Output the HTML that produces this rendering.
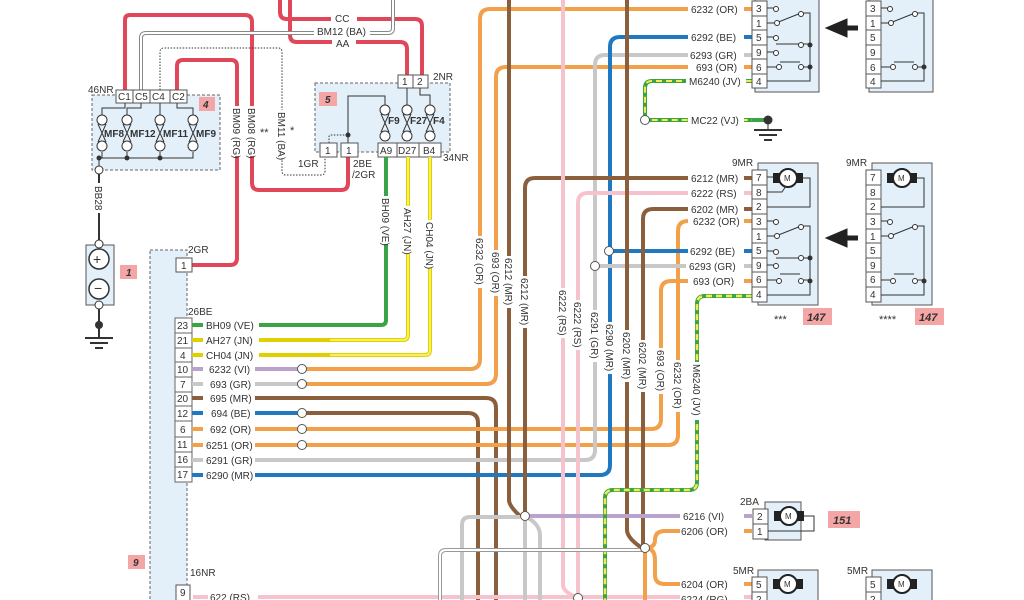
<!DOCTYPE html>
<html><head><meta charset="utf-8"><style>
html,body{margin:0;padding:0;background:#fff;}
svg{display:block;font-family:"Liberation Sans",sans-serif;}
text{font-size:10px;fill:#333;}
</style></head><body>
<svg width="1024" height="600" viewBox="0 0 1024 600" xmlns="http://www.w3.org/2000/svg">
<defs>
<g id="fuse"><circle cx="0" cy="0" r="5" fill="#fff" stroke="#333"/><circle cx="0" cy="26" r="5" fill="#fff" stroke="#333"/><path d="M-4 4 L4 22 M4 4 L-4 22" stroke="#333" fill="none"/></g>
<g id="gnd"><line x1="-14" y1="0" x2="14" y2="0" stroke="#333" stroke-width="2"/><line x1="-9" y1="5" x2="9" y2="5" stroke="#333" stroke-width="2"/><line x1="-4" y1="10" x2="4" y2="10" stroke="#333" stroke-width="2"/></g>
<g id="motor"><rect x="-15" y="-5" width="30" height="10" fill="#222"/><circle cx="0" cy="0" r="9" fill="#fff" stroke="#222" stroke-width="2"/><text x="-4" y="3" style="font-size:8px">M</text></g>
</defs>

<rect x="92" y="95" width="128" height="75" fill="#e3f0fa" stroke="#666" stroke-dasharray="3,2"/>
<rect x="315" y="83" width="135" height="69" fill="#e3f0fa" stroke="#666" stroke-dasharray="3,2"/>
<rect x="150" y="250" width="37" height="360" fill="#e3f0fa" stroke="#666" stroke-dasharray="3,2"/>

<g fill="none" stroke="#e0485a" stroke-width="4" stroke-linejoin="round">
<path d="M125 90 V20 Q125 15 130 15 H245 Q252 15 252 22 V183 Q252 190 259 190 H341 Q348 190 348 183 V157"/>
<path d="M177 90 V66 Q177 60 183 60 H231 Q237 60 237 66 V258 Q237 265 230 265 H192"/>
<path d="M280 0 V12 Q280 19 287 19 H415 Q422 19 422 26 V76"/>
<path d="M290 0 V35 Q290 42 297 42 H400 Q407 42 407 49 V76"/>
</g>
<path d="M141 90 V38 Q141 33 146 33 H388 Q393 33 393 28 V0" fill="none" stroke="#888" stroke-width="4"/>
<path d="M141 90 V38 Q141 33 146 33 H388 Q393 33 393 28 V0" fill="none" stroke="#fff" stroke-width="2"/>
<path d="M160 90 V52 Q160 48 164 48 H278 Q282 48 282 52 V171 Q282 175 286 175 H321 Q325 175 325 171 V157" fill="none" stroke="#333" stroke-dasharray="1.5,1.5"/>
<path d="M329 143 V137 Q329 135 331 135 H349" fill="none" stroke="#333" stroke-dasharray="1.5,1.5"/>
<rect x="331" y="13" width="26" height="11" fill="#fff"/><text x="335" y="22">CC</text>
<rect x="314" y="26" width="56" height="11" fill="#fff"/><text x="317" y="35">BM12 (BA)</text>
<rect x="332" y="37" width="24" height="11" fill="#fff"/><text x="336" y="47">AA</text>

<rect x="232" y="106" width="10" height="50" fill="#fff"/><text transform="translate(233,108) rotate(90)">BM09 (RG)</text>
<rect x="247" y="106" width="10" height="50" fill="#fff"/><text transform="translate(248,108) rotate(90)">BM08 (RG)</text>
<rect x="277" y="110" width="10" height="48" fill="#fff"/><text transform="translate(278,112) rotate(90)">BM11 (BA)</text>
<text x="260" y="136" style="font-size:11px">**</text><text x="290" y="134" style="font-size:11px">*</text>

<text x="88" y="93">46NR</text>
<g fill="#fff" stroke="#555"><rect x="116" y="90" width="17" height="13"/><rect x="133" y="90" width="17" height="13"/><rect x="150" y="90" width="20" height="13"/><rect x="170" y="90" width="17" height="13"/></g>
<text x="118" y="100">C1</text><text x="135" y="100">C5</text><text x="152" y="100">C4</text><text x="172" y="100">C2</text>
<rect x="199" y="97" width="16" height="14" fill="#f4a5a5"/><text x="203" y="108" style="font-weight:bold;font-style:italic">4</text>
<g fill="none" stroke="#333"><path d="M125 103 V108 H102 V115"/><path d="M141 103 V108 H127 V115"/><path d="M160 103 V115"/><path d="M177 103 V108 H193 V115"/><path d="M102 152 V158 H193 V152 M127 152 V158 M160 152 V158 M99 158 V170"/></g>
<use href="#fuse" x="102" y="120"/><use href="#fuse" x="127" y="120"/><use href="#fuse" x="160" y="120"/><use href="#fuse" x="193" y="120"/>
<text x="104" y="137" style="font-weight:bold">MF8</text><text x="130" y="137" style="font-weight:bold">MF12</text><text x="163" y="137" style="font-weight:bold">MF11</text><text x="196" y="137" style="font-weight:bold">MF9</text>
<g fill="#333"><circle cx="99" cy="158" r="2.5"/><circle cx="127" cy="158" r="2.5"/><circle cx="160" cy="158" r="2.5"/></g>
<line x1="99" y1="170" x2="99" y2="243" stroke="#333" stroke-width="2"/>
<circle cx="99" cy="170" r="4" fill="#fff" stroke="#333"/>
<rect x="94" y="183" width="10" height="30" fill="#fff"/>
<text transform="translate(95,186) rotate(90)">BB28</text>
<rect x="86" y="245" width="28" height="60" fill="#e3f0fa" stroke="#555"/>
<circle cx="99" cy="244" r="4" fill="#fff" stroke="#333"/><circle cx="99" cy="305" r="4" fill="#fff" stroke="#333"/>
<circle cx="99" cy="259" r="10" fill="#fff" stroke="#333" stroke-width="1.5"/><text x="93" y="264" style="font-size:14px">+</text>
<circle cx="99" cy="289" r="10" fill="#fff" stroke="#333" stroke-width="1.5"/><text x="94" y="293" style="font-size:14px">−</text>
<rect x="120" y="265" width="17" height="14" fill="#f4a5a5"/><text x="126" y="276" style="font-weight:bold;font-style:italic">1</text>
<line x1="99" y1="309" x2="99" y2="337" stroke="#333" stroke-width="2"/><circle cx="99" cy="325" r="4" fill="#333"/>
<use href="#gnd" x="99" y="338"/>

<text x="433" y="80">2NR</text>
<rect x="398" y="75" width="15" height="13" fill="#fff" stroke="#555"/><rect x="413" y="75" width="15" height="13" fill="#fff" stroke="#555"/>
<text x="402" y="85">1</text><text x="417" y="85">2</text>
<rect x="319" y="92" width="18" height="14" fill="#f4a5a5"/><text x="325" y="103" style="font-weight:bold;font-style:italic">5</text>
<g fill="none" stroke="#333"><path d="M348 143 V96 H385 V105"/><path d="M407 88 V105"/><path d="M420 88 V95 H430 V105"/></g>
<circle cx="348" cy="135" r="2.5" fill="#333"/>
<use href="#fuse" x="385" y="110"/><use href="#fuse" x="407" y="110"/><use href="#fuse" x="430" y="110"/>
<text x="388" y="124" style="font-weight:bold">F9</text><text x="410" y="124" style="font-weight:bold">F27</text><text x="433" y="124" style="font-weight:bold">F4</text>
<g fill="#fff" stroke="#555"><rect x="320" y="143" width="17" height="14"/><rect x="341" y="143" width="17" height="14"/><rect x="378" y="143" width="19" height="14"/><rect x="397" y="143" width="22" height="14"/><rect x="419" y="143" width="22" height="14"/></g>
<text x="325" y="154">1</text><text x="346" y="154">1</text><text x="380" y="154">A9</text><text x="398" y="154">D27</text><text x="423" y="154">B4</text>
<text x="443" y="161">34NR</text><text x="298" y="167">1GR</text><text x="353" y="167">2BE</text><text x="352" y="178">/2GR</text>

<g fill="none" stroke-width="4" stroke-linejoin="round">
<path d="M386 157 V320 Q386 325 381 325 H325" stroke="#3aa346"/>
<path d="M408 157 V335 Q408 340 403 340 H325" stroke="#e0d000"/>
<path d="M408 157 V335 Q408 340 403 340 H325" stroke="#f6f060" stroke-width="2"/>
<path d="M430 157 V350 Q430 355 425 355 H325" stroke="#e0d000"/>
<path d="M430 157 V350 Q430 355 425 355 H325" stroke="#f6f060" stroke-width="2"/>
</g>
<rect x="381" y="196" width="10" height="48" fill="#fff"/><text transform="translate(382,198) rotate(90)">BH09 (VE)</text>
<rect x="403" y="206" width="10" height="48" fill="#fff"/><text transform="translate(404,208) rotate(90)">AH27 (JN)</text>
<rect x="425" y="220" width="10" height="48" fill="#fff"/><text transform="translate(426,222) rotate(90)">CH04 (JN)</text>

<text x="188" y="253">2GR</text><rect x="176" y="258" width="16" height="14" fill="#fff" stroke="#555"/><text x="181" y="269">1</text>
<text x="188" y="315">26BE</text>
<g fill="#fff" stroke="#666">
<rect x="175" y="318" width="17" height="15"/><rect x="175" y="333" width="17" height="15"/><rect x="175" y="348" width="17" height="14"/><rect x="175" y="362" width="17" height="15"/><rect x="175" y="377" width="17" height="15"/><rect x="175" y="392" width="17" height="14"/><rect x="175" y="406" width="17" height="15"/><rect x="175" y="421" width="17" height="16"/><rect x="175" y="437" width="17" height="15"/><rect x="175" y="452" width="17" height="15"/><rect x="175" y="467" width="17" height="15"/></g>
<g><text x="177" y="329">23</text><text x="177" y="344">21</text><text x="180" y="359">4</text><text x="177" y="373">10</text><text x="180" y="388">7</text><text x="177" y="402">20</text><text x="177" y="417">12</text><text x="180" y="433">6</text><text x="177" y="448">11</text><text x="177" y="463">16</text><text x="177" y="478">17</text></g>

<g fill="none" stroke-width="4" stroke-linejoin="round">
<path d="M305 369 H470 Q480 369 480 359 V19 Q480 9 490 9 H752" stroke="#f2a04a"/>
<path d="M305 384 H486 Q496 384 496 374 V77 Q496 67 506 67 H752" stroke="#f2a04a"/>
<path d="M192 398 H486 Q496 398 496 408 V600" stroke="#8b5e3c"/>
<path d="M305 413 H468 Q478 413 478 423 V600" stroke="#8b5e3c"/>
<path d="M305 429 H651 Q661 429 661 419 V291 Q661 281 671 281 H752" stroke="#f2a04a"/>
<path d="M305 445 H668 Q678 445 678 435 V231 Q678 221 688 221 H752" stroke="#f2a04a"/>
<path d="M192 460 H585 Q595 460 595 450 V65 Q595 55 605 55 H752" stroke="#c8c8c8"/>
<path d="M192 475 H600 Q610 475 610 465 V47 Q610 37 620 37 H752" stroke="#1f78c0"/>
<path d="M609 251 H752" stroke="#1f78c0"/>
<path d="M595 266 H752" stroke="#c8c8c8"/>
<path d="M509 0 V500 Q509 506 520 516" stroke="#8b5e3c"/>
<path d="M525 516 V188 Q525 178 535 178 H752" stroke="#8b5e3c"/>
<path d="M563 0 V585 Q563 592 578 598" stroke="#f6c3cc"/>
<path d="M578 598 V203 Q578 193 588 193 H752" stroke="#f6c3cc"/>
<path d="M627 0 V530 Q627 538 642 548" stroke="#8b5e3c"/>
<path d="M643 548 V219 Q643 209 653 209 H752" stroke="#8b5e3c"/>
<path d="M193 597 H752" stroke="#f6c3cc"/>
<path d="M525 516 H752" stroke="#b9a2cc"/>
<path d="M645 548 Q655 548 655 540 Q655 531 665 531 H752" stroke="#f2a04a"/>
<path d="M645 548 Q655 548 655 560 V575 Q655 584 665 584 H752" stroke="#f2a04a"/>
<path d="M645 548 V600" stroke="#f2a04a"/>
<path d="M525 516 V600" stroke="#c8c8c8"/>
<path d="M525 516 Q540 524 540 535 V600" stroke="#c8c8c8"/>
<path d="M462 600 V525 Q462 517 470 517 H520" stroke="#c8c8c8"/>
<path d="M752 81 H652 Q645 81 645 88 V120 H752" stroke="#3aa346"/>
<path d="M752 81 H652 Q645 81 645 88 V120 H752" stroke="#f2ec50" stroke-width="2" stroke-dasharray="6,4"/>
<path d="M752 296 H705 Q697 296 697 304 V482 Q697 490 689 490 H613 Q605 490 605 498 V600" stroke="#3aa346"/>
<path d="M752 296 H705 Q697 296 697 304 V482 Q697 490 689 490 H613 Q605 490 605 498 V600" stroke="#f2ec50" stroke-width="2.5" stroke-dasharray="6,4"/>
</g>
<path d="M440 600 V556 Q440 550 446 550 H645" fill="none" stroke="#999" stroke-width="4"/>
<path d="M440 600 V556 Q440 550 446 550 H645" fill="none" stroke="#fff" stroke-width="2"/>
<g stroke-width="4"><line x1="192" y1="369" x2="300" y2="369" stroke="#b9a2cc"/><line x1="192" y1="384" x2="300" y2="384" stroke="#c8c8c8"/><line x1="192" y1="413" x2="300" y2="413" stroke="#1f78c0"/><line x1="192" y1="429" x2="300" y2="429" stroke="#f2a04a"/><line x1="192" y1="445" x2="300" y2="445" stroke="#f2a04a"/><line x1="192" y1="325" x2="330" y2="325" stroke="#3aa346"/><line x1="192" y1="340" x2="330" y2="340" stroke="#e0d000"/><line x1="192" y1="355" x2="330" y2="355" stroke="#e0d000"/></g>
<g fill="#fff" stroke="#555"><circle cx="302" cy="369" r="4.5"/><circle cx="302" cy="384" r="4.5"/><circle cx="302" cy="413" r="4.5"/><circle cx="302" cy="429" r="4.5"/><circle cx="302" cy="445" r="4.5"/>
<circle cx="609" cy="251" r="4.5"/><circle cx="595" cy="266" r="4.5"/><circle cx="645" cy="120" r="4.5"/><circle cx="525" cy="516" r="4.5"/><circle cx="645" cy="548" r="4.5"/><circle cx="578" cy="598" r="4.5"/></g>
<g><rect x="203" y="319" width="56" height="12" fill="#fff"/><text x="206" y="329">BH09 (VE)</text>
<rect x="203" y="334" width="56" height="12" fill="#fff"/><text x="206" y="344">AH27 (JN)</text>
<rect x="203" y="349" width="56" height="12" fill="#fff"/><text x="206" y="359">CH04 (JN)</text>
<rect x="203" y="363" width="52" height="12" fill="#fff"/><text x="209" y="373">6232 (VI)</text>
<rect x="203" y="378" width="52" height="12" fill="#fff"/><text x="210" y="388">693 (GR)</text>
<rect x="203" y="392" width="52" height="12" fill="#fff"/><text x="210" y="402">695 (MR)</text>
<rect x="203" y="407" width="52" height="12" fill="#fff"/><text x="211" y="417">694 (BE)</text>
<rect x="203" y="423" width="52" height="12" fill="#fff"/><text x="210" y="433">692 (OR)</text>
<rect x="203" y="439" width="52" height="12" fill="#fff"/><text x="206" y="449">6251 (OR)</text>
<rect x="203" y="454" width="52" height="12" fill="#fff"/><text x="206" y="464">6291 (GR)</text>
<rect x="203" y="469" width="52" height="12" fill="#fff"/><text x="206" y="479">6290 (MR)</text>
<rect x="208" y="592" width="50" height="10" fill="#fff"/><text x="210" y="601">622 (RS)</text></g>
<text x="190" y="576">16NR</text><rect x="176" y="585" width="14" height="16" fill="#fff" stroke="#555"/><text x="180" y="596">9</text>
<rect x="128" y="555" width="17" height="14" fill="#f4a5a5"/><text x="133" y="566" style="font-weight:bold;font-style:italic">9</text>

<g>
<rect x="475" y="236" width="10" height="52" fill="#fff"/><text transform="translate(476,238) rotate(90)">6232 (OR)</text>
<rect x="491" y="250" width="10" height="46" fill="#fff"/><text transform="translate(492,252) rotate(90)">693 (OR)</text>
<rect x="504" y="256" width="10" height="52" fill="#fff"/><text transform="translate(505,258) rotate(90)">6212 (MR)</text>
<rect x="520" y="276" width="10" height="52" fill="#fff"/><text transform="translate(521,278) rotate(90)">6212 (MR)</text>
<rect x="558" y="288" width="10" height="50" fill="#fff"/><text transform="translate(559,290) rotate(90)">6222 (RS)</text>
<rect x="573" y="300" width="10" height="50" fill="#fff"/><text transform="translate(574,302) rotate(90)">6222 (RS)</text>
<rect x="590" y="310" width="10" height="52" fill="#fff"/><text transform="translate(591,312) rotate(90)">6291 (GR)</text>
<rect x="605" y="322" width="10" height="52" fill="#fff"/><text transform="translate(606,324) rotate(90)">6290 (MR)</text>
<rect x="622" y="330" width="10" height="52" fill="#fff"/><text transform="translate(623,332) rotate(90)">6202 (MR)</text>
<rect x="638" y="340" width="10" height="52" fill="#fff"/><text transform="translate(639,342) rotate(90)">6202 (MR)</text>
<rect x="656" y="348" width="10" height="46" fill="#fff"/><text transform="translate(657,350) rotate(90)">693 (OR)</text>
<rect x="673" y="360" width="10" height="52" fill="#fff"/><text transform="translate(674,362) rotate(90)">6232 (OR)</text>
<rect x="692" y="362" width="10" height="58" fill="#fff"/><text transform="translate(693,364) rotate(90)">M6240 (JV)</text>
</g>

<g>
<rect x="688" y="3" width="56" height="12" fill="#fff"/><text x="691" y="13">6232 (OR)</text>
<rect x="688" y="31" width="56" height="12" fill="#fff"/><text x="691" y="41">6292 (BE)</text>
<rect x="688" y="49" width="56" height="12" fill="#fff"/><text x="690" y="59">6293 (GR)</text>
<rect x="688" y="61" width="56" height="12" fill="#fff"/><text x="696" y="71">693 (OR)</text>
<rect x="686" y="75" width="60" height="12" fill="#fff"/><text x="689" y="85">M6240 (JV)</text>
<rect x="688" y="114" width="56" height="12" fill="#fff"/><text x="691" y="124">MC22 (VJ)</text>
<rect x="688" y="172" width="56" height="12" fill="#fff"/><text x="691" y="182">6212 (MR)</text>
<rect x="688" y="187" width="56" height="12" fill="#fff"/><text x="691" y="197">6222 (RS)</text>
<rect x="688" y="203" width="56" height="12" fill="#fff"/><text x="691" y="213">6202 (MR)</text>
<rect x="688" y="215" width="56" height="12" fill="#fff"/><text x="693" y="225">6232 (OR)</text>
<rect x="688" y="245" width="56" height="12" fill="#fff"/><text x="690" y="255">6292 (BE)</text>
<rect x="686" y="260" width="58" height="12" fill="#fff"/><text x="689" y="270">6293 (GR)</text>
<rect x="688" y="275" width="56" height="12" fill="#fff"/><text x="693" y="285">693 (OR)</text>
<rect x="680" y="510" width="64" height="12" fill="#fff"/><text x="683" y="520">6216 (VI)</text>
<rect x="680" y="525" width="64" height="12" fill="#fff"/><text x="681" y="535">6206 (OR)</text>
<rect x="680" y="578" width="64" height="12" fill="#fff"/><text x="681" y="588">6204 (OR)</text>
<rect x="680" y="593" width="64" height="10" fill="#fff"/><text x="681" y="603">6224 (RG)</text>
</g>
<line x1="752" y1="120" x2="768" y2="120" stroke="#3aa346" stroke-width="4"/>
<circle cx="768" cy="120" r="4.5" fill="#333"/><line x1="768" y1="120" x2="768" y2="130" stroke="#333"/><use href="#gnd" x="768" y="130"/>

<g>
<rect x="755" y="-5" width="64" height="97" fill="#e3f0fa" stroke="#555"/>
<g fill="#fff" stroke="#555"><rect x="752" y="1" width="15" height="15"/><rect x="752" y="16" width="15" height="14"/><rect x="752" y="30" width="15" height="15"/><rect x="752" y="45" width="15" height="14"/><rect x="752" y="59" width="15" height="15"/><rect x="752" y="74" width="15" height="14"/></g>
<text x="756" y="12">3</text><text x="756" y="27">1</text><text x="756" y="41">5</text><text x="756" y="56">9</text><text x="756" y="71">6</text><text x="756" y="85">4</text>
<g fill="none" stroke="#333"><path d="M767 8 H774 M767 23 H776 L801 13 M767 37 H774 M767 52 H774 M776 44 H810 M767 67 H777 M780 62 H800 M803 67 H810 M802 13 H810 V81 H767"/></g>
<g fill="#fff" stroke="#333"><circle cx="776" cy="9" r="2.5"/><circle cx="777" cy="23" r="2.5"/><circle cx="801" cy="14" r="2.5"/><circle cx="776" cy="38" r="2.5"/><circle cx="776" cy="53" r="2.5"/><circle cx="801" cy="45" r="2.5"/><circle cx="779" cy="67" r="2.5"/><circle cx="801" cy="67" r="2.5"/></g>
<circle cx="810" cy="45" r="2.5" fill="#333"/><circle cx="810" cy="67" r="2.5" fill="#333"/>
</g>
<path d="M858 28 H845 V22 L831 28 L845 34 V28" fill="#222" stroke="#222" stroke-width="5"/>
<rect x="869" y="-5" width="64" height="97" fill="#e3f0fa" stroke="#555"/>
<g fill="#fff" stroke="#555"><rect x="866" y="1" width="15" height="15"/><rect x="866" y="16" width="15" height="14"/><rect x="866" y="30" width="15" height="15"/><rect x="866" y="45" width="15" height="14"/><rect x="866" y="59" width="15" height="15"/><rect x="866" y="74" width="15" height="14"/></g>
<text x="870" y="12">3</text><text x="870" y="27">1</text><text x="870" y="41">5</text><text x="870" y="56">9</text><text x="870" y="71">6</text><text x="870" y="85">4</text>
<g fill="none" stroke="#333"><path d="M881 8 H888 M881 23 H890 L915 13 M881 67 H891 M894 62 H914 M917 67 H924 M916 13 H924 V81 H881"/></g>
<g fill="#fff" stroke="#333"><circle cx="890" cy="9" r="2.5"/><circle cx="891" cy="23" r="2.5"/><circle cx="915" cy="14" r="2.5"/><circle cx="893" cy="67" r="2.5"/><circle cx="915" cy="67" r="2.5"/></g>
<circle cx="924" cy="67" r="2.5" fill="#333"/>

<text x="732" y="166">9MR</text><text x="846" y="166">9MR</text>
<g>
<rect x="758" y="163" width="60" height="142" fill="#e3f0fa" stroke="#555"/>
<g fill="#fff" stroke="#555"><rect x="752" y="170" width="15" height="15"/><rect x="752" y="185" width="15" height="14"/><rect x="752" y="199" width="15" height="15"/><rect x="752" y="214" width="15" height="15"/><rect x="752" y="229" width="15" height="14"/><rect x="752" y="243" width="15" height="15"/><rect x="752" y="258" width="15" height="14"/><rect x="752" y="272" width="15" height="15"/><rect x="752" y="287" width="15" height="15"/></g>
<text x="756" y="181">7</text><text x="756" y="196">8</text><text x="756" y="210">2</text><text x="756" y="225">3</text><text x="756" y="240">1</text><text x="756" y="254">5</text><text x="756" y="269">9</text><text x="756" y="283">6</text><text x="756" y="298">4</text>
<use href="#motor" x="788" y="178"/>
<g fill="none" stroke="#333"><path d="M767 177 H773 M803 178 H810 V207 H767 M767 192 H782 L786 186 M767 221 H774 M767 236 H776 L801 226 M767 251 H774 M767 265 H774 M776 258 H810 M767 280 H777 M780 274 H800 M803 280 H810 M802 226 H810 V295 H767"/></g>
<g fill="#fff" stroke="#333"><circle cx="776" cy="222" r="2.5"/><circle cx="777" cy="236" r="2.5"/><circle cx="801" cy="227" r="2.5"/><circle cx="776" cy="252" r="2.5"/><circle cx="776" cy="266" r="2.5"/><circle cx="801" cy="258" r="2.5"/><circle cx="779" cy="281" r="2.5"/><circle cx="801" cy="281" r="2.5"/></g>
<circle cx="810" cy="258" r="2.5" fill="#333"/><circle cx="810" cy="281" r="2.5" fill="#333"/>
</g>
<path d="M858 238 H845 V232 L831 238 L845 244 V238" fill="#222" stroke="#222" stroke-width="5"/>
<g>
<rect x="872" y="163" width="60" height="142" fill="#e3f0fa" stroke="#555"/>
<g fill="#fff" stroke="#555"><rect x="866" y="170" width="15" height="15"/><rect x="866" y="185" width="15" height="14"/><rect x="866" y="199" width="15" height="15"/><rect x="866" y="214" width="15" height="15"/><rect x="866" y="229" width="15" height="14"/><rect x="866" y="243" width="15" height="15"/><rect x="866" y="258" width="15" height="14"/><rect x="866" y="272" width="15" height="15"/><rect x="866" y="287" width="15" height="15"/></g>
<text x="870" y="181">7</text><text x="870" y="196">8</text><text x="870" y="210">2</text><text x="870" y="225">3</text><text x="870" y="240">1</text><text x="870" y="254">5</text><text x="870" y="269">9</text><text x="870" y="283">6</text><text x="870" y="298">4</text>
<use href="#motor" x="902" y="178"/>
<g fill="none" stroke="#333"><path d="M917 178 H924 V207 H881 M881 221 H888 M881 236 H890 L915 226 M881 280 H891 M894 274 H914 M917 280 H924 M916 226 H924 V295 H881"/></g>
<g fill="#fff" stroke="#333"><circle cx="890" cy="222" r="2.5"/><circle cx="891" cy="236" r="2.5"/><circle cx="915" cy="227" r="2.5"/><circle cx="893" cy="281" r="2.5"/><circle cx="915" cy="281" r="2.5"/></g>
<circle cx="924" cy="281" r="2.5" fill="#333"/>
</g>
<text x="774" y="323" style="font-size:11px">***</text><rect x="803" y="308" width="29" height="17" fill="#f4a5a5"/><text x="807" y="321" style="font-size:11px;font-weight:bold;font-style:italic">147</text>
<text x="879" y="323" style="font-size:11px">****</text><rect x="915" y="308" width="29" height="17" fill="#f4a5a5"/><text x="919" y="321" style="font-size:11px;font-weight:bold;font-style:italic">147</text>

<text x="740" y="505">2BA</text>
<rect x="765" y="502" width="36" height="38" fill="#e3f0fa" stroke="#555"/>
<rect x="753" y="509" width="15" height="15" fill="#fff" stroke="#555"/><rect x="753" y="524" width="15" height="15" fill="#fff" stroke="#555"/>
<text x="757" y="520">2</text><text x="757" y="535">1</text>
<use href="#motor" x="789" y="516"/><path d="M768 531 H814 V516 H804" fill="none" stroke="#333"/>
<rect x="828" y="511" width="32" height="17" fill="#f4a5a5"/><text x="833" y="524" style="font-size:11px;font-weight:bold;font-style:italic">151</text>
<text x="733" y="574">5MR</text><text x="847" y="574">5MR</text>
<rect x="758" y="570" width="60" height="40" fill="#e3f0fa" stroke="#555"/>
<rect x="752" y="577" width="15" height="15" fill="#fff" stroke="#555"/><rect x="752" y="592" width="15" height="15" fill="#fff" stroke="#555"/>
<text x="756" y="588">5</text><text x="756" y="603">2</text><use href="#motor" x="788" y="584"/>
<rect x="872" y="570" width="60" height="40" fill="#e3f0fa" stroke="#555"/>
<rect x="866" y="577" width="15" height="15" fill="#fff" stroke="#555"/><rect x="866" y="592" width="15" height="15" fill="#fff" stroke="#555"/>
<text x="870" y="588">5</text><text x="870" y="603">2</text><use href="#motor" x="902" y="584"/>
</svg>
</body></html>
